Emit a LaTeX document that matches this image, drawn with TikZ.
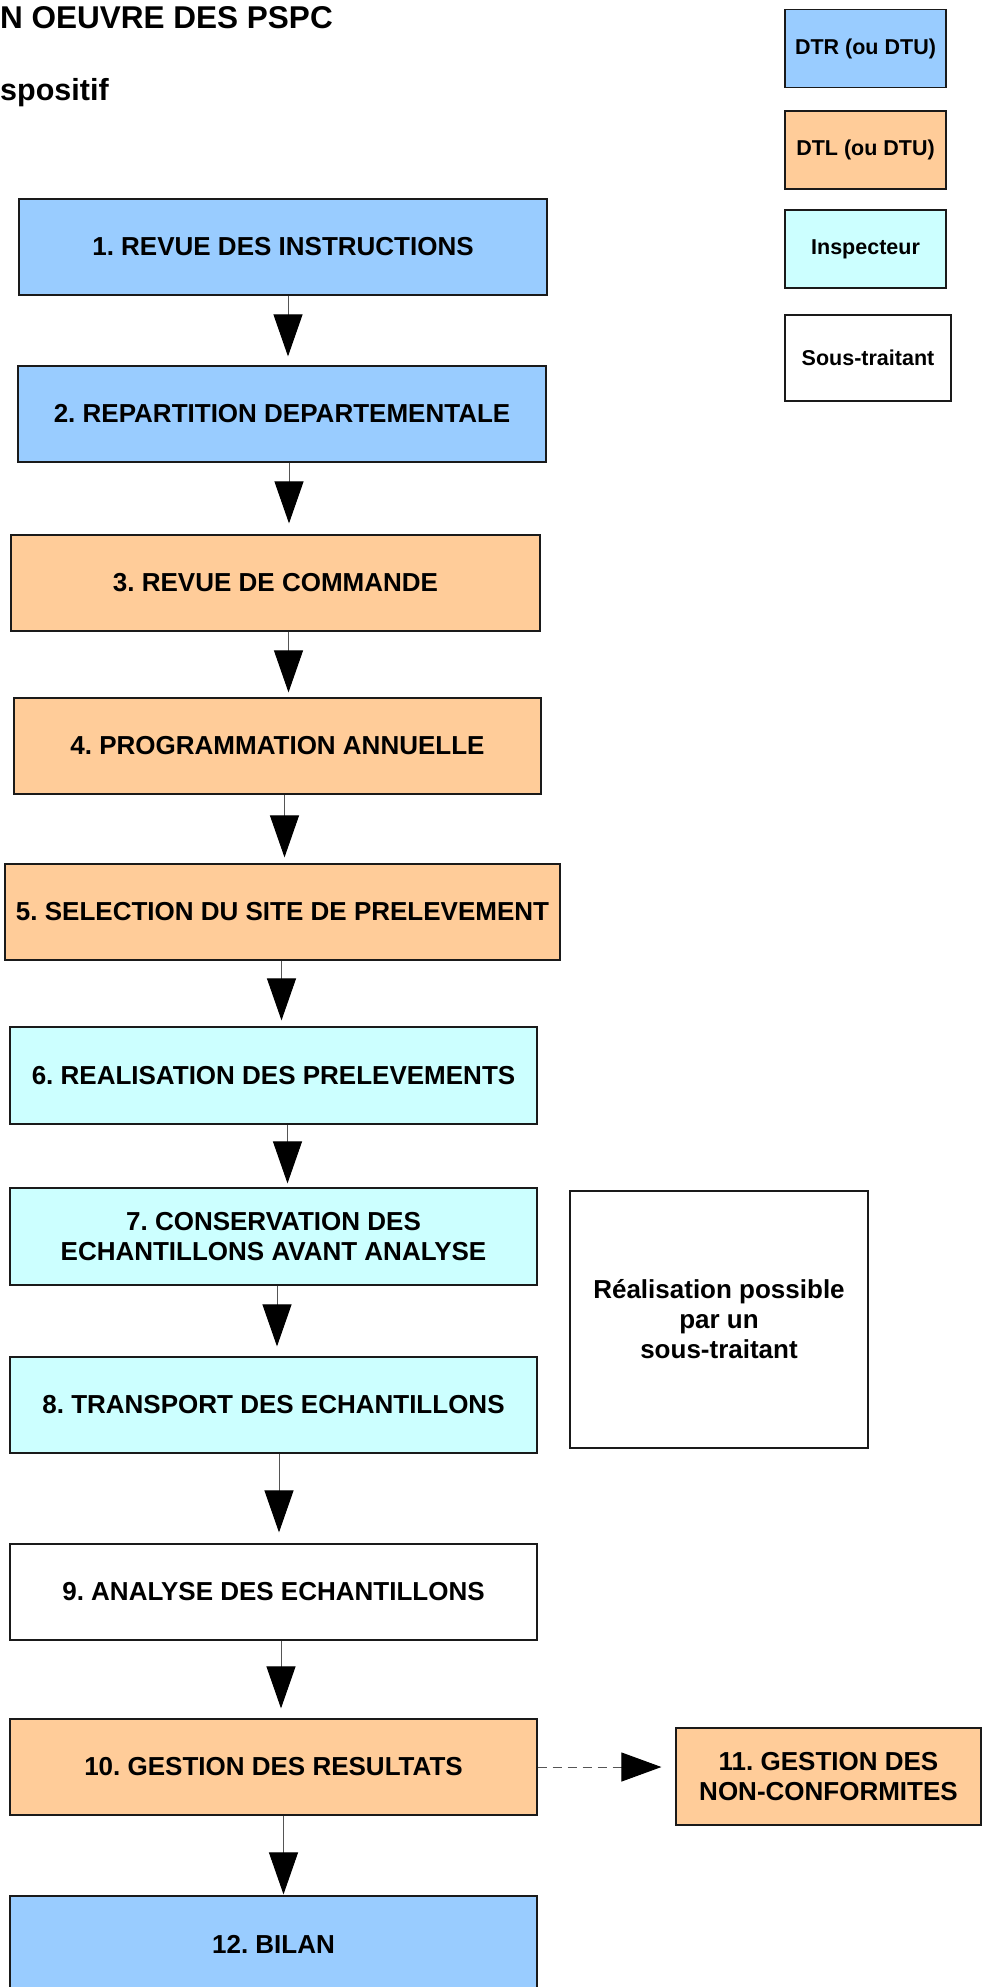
\documentclass[tikz,border=0pt]{standalone}
\usepackage{fontspec}
\setmainfont{Liberation Sans}
\usetikzlibrary{arrows.meta}
\definecolor{dtr}{HTML}{99CCFF}
\definecolor{dtl}{HTML}{FFCC99}
\definecolor{insp}{HTML}{CCFFFF}
\definecolor{edge}{HTML}{1A1A1A}
\definecolor{shaft}{HTML}{555555}
\frenchspacing
\begin{document}
\begin{tikzpicture}[x=1pt,y=-1pt,
  box/.style={draw=edge, line width=1.2pt, inner sep=0pt, align=center,
    font=\bfseries\fontsize{26}{30}\selectfont, minimum height=96pt},
  leg/.style={draw=edge, line width=1.2pt, inner sep=0pt, align=center,
    font=\bfseries\fontsize{21.5}{24}\selectfont, minimum width=161pt, minimum height=78pt},
  arr/.style={draw=shaft, line width=1pt, -{Triangle[length=42pt,width=29pt,fill=black,color=black]}},
  darr/.style={draw=shaft, line width=1pt, dash pattern=on 9pt off 6pt, -{Triangle[length=40pt,width=29pt,fill=black,color=black]}},
  ttl/.style={inner sep=0pt, anchor=base west, font=\bfseries\fontsize{31.5}{36}\selectfont}]
\useasboundingbox (0,0) rectangle (983,1987);
% titles
\node[ttl] (t1) at (0,28) {N OEUVRE DES PSPC};
\node[ttl, font=\bfseries\fontsize{30.5}{36}\selectfont] (t2) at (0,100) {spositif};
% legend
\node[leg, fill=dtr] (l1) at (865.5,48.5) {DTR (ou DTU)};
\node[leg, fill=dtl] (l2) at (865.5,150) {DTL (ou DTU)};
\node[leg, fill=insp] (l3) at (865.5,249) {Inspecteur};
\node[leg, fill=white, minimum width=166pt, minimum height=86pt] (l4) at (868,358) {Sous-traitant};
% main boxes
\node[box, fill=dtr, minimum width=528pt] (b1) at (283,247) {1. REVUE DES INSTRUCTIONS};
\node[box, fill=dtr, minimum width=528pt] (b2) at (282,414) {2. REPARTITION DEPARTEMENTALE};
\node[box, fill=dtl, minimum width=529pt] (b3) at (275.5,583) {3. REVUE DE COMMANDE};
\node[box, fill=dtl, minimum width=527pt] (b4) at (277.5,746) {4. PROGRAMMATION ANNUELLE};
\node[box, fill=dtl, minimum width=555pt] (b5) at (282.5,912) {5. SELECTION DU SITE DE PRELEVEMENT};
\node[box, fill=insp, minimum width=527pt, minimum height=97pt] (b6) at (273.5,1075.5) {6. REALISATION DES PRELEVEMENTS};
\node[box, fill=insp, minimum width=527pt, minimum height=97pt] (b7) at (273.5,1236.5) {7. CONSERVATION DES\\ECHANTILLONS AVANT ANALYSE};
\node[box, fill=insp, minimum width=527pt] (b8) at (273.5,1405) {8. TRANSPORT DES ECHANTILLONS};
\node[box, fill=white, minimum width=527pt] (b9) at (273.5,1592) {9. ANALYSE DES ECHANTILLONS};
\node[box, fill=dtl, minimum width=527pt] (b10) at (273.5,1767) {10. GESTION DES RESULTATS};
\node[box, fill=dtl, minimum width=305pt, minimum height=97pt] (b11) at (828.5,1776.5) {11. GESTION DES\\NON-CONFORMITES};
\node[box, fill=dtr, minimum width=527pt] (b12) at (273.5,1944) {12. BILAN};
\node[box, fill=white, minimum width=298pt, minimum height=257pt] (note) at (719,1319.5) {R\'ealisation possible\\par un\\sous-traitant};
% connectors
\draw[arr, shorten >=9pt] ([xshift=5pt]b1.south) -- ([xshift=5pt]b1.south |- b2.north);
\draw[arr, shorten >=11pt] ([xshift=7pt]b2.south) -- ([xshift=7pt]b2.south |- b3.north);
\draw[arr, shorten >=5pt] ([xshift=13pt]b3.south) -- ([xshift=13pt]b3.south |- b4.north);
\draw[arr, shorten >=6pt] ([xshift=7pt]b4.south) -- ([xshift=7pt]b4.south |- b5.north);
\draw[arr, shorten >=6pt] ([xshift=-1pt]b5.south) -- ([xshift=-1pt]b5.south |- b6.north);
\draw[arr, shorten >=4pt] ([xshift=14pt]b6.south) -- ([xshift=14pt]b6.south |- b7.north);
\draw[arr, shorten >=10pt] ([xshift=3.5pt]b7.south) -- ([xshift=3.5pt]b7.south |- b8.north);
\draw[arr, shorten >=11pt] ([xshift=5.5pt]b8.south) -- ([xshift=5.5pt]b8.south |- b9.north);
\draw[arr, shorten >=10pt] ([xshift=7.5pt]b9.south) -- ([xshift=7.5pt]b9.south |- b10.north);
\draw[arr, shorten >=1pt] ([xshift=10pt]b10.south) -- ([xshift=10pt]b10.south |- b12.north);
\draw[darr, shorten >=14pt] (b10.east) -- (b10.east -| b11.west);
\end{tikzpicture}
\end{document}
